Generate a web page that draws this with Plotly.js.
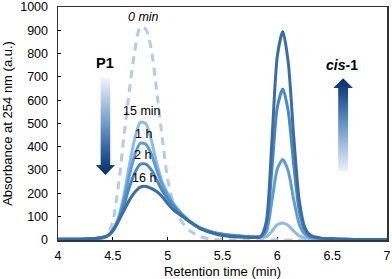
<!DOCTYPE html>
<html><head><meta charset="utf-8">
<script src="https://cdn.plot.ly/plotly-3.0.1.min.js"></script>
<style>html,body{margin:0;padding:0;background:#fff;}#chart{width:392px;height:279px;}</style>
</head><body><div id="chart"></div>
<script>
// Retention time grid (min)
const time = [4.0,4.1,4.2,4.3,4.4,4.45,4.5,4.55,4.6,4.65,4.7,4.75,4.8,4.85,4.9,4.95,5.0,5.05,5.1,5.15,5.2,5.3,5.4,5.5,5.6,5.7,5.8,5.85,5.9,5.95,6.0,6.05,6.1,6.15,6.2,6.25,6.3,6.4,6.5,6.6,6.8,7.0];
// Absorbance at 254 nm (a.u.) for each irradiation time
const abs0min  = [0,0,0,0,5,20,80,230,440,640,810,915,905,820,640,440,260,160,100,65,40,14,3,0,0,0,0,0,0,0,0,0,0,0,0,0,0,0,0,0,0,0];
const abs15min = [3,3,3,5,10,18,45,95,190,320,435,505,500,430,330,250,200,160,128,103,82,52,36,26,20,16,13,12,14,38,65,73,62,38,18,9,6,4,3,3,2,2];
const abs1h    = [3,3,3,5,10,17,42,88,170,275,365,415,412,370,300,238,192,155,125,101,81,51,35,25,19,15,13,13,35,165,305,345,295,172,68,25,12,6,4,3,2,2];
const abs2h    = [3,3,3,5,10,16,40,82,148,225,288,325,326,302,258,212,176,146,120,98,79,50,34,24,18,15,13,14,60,300,570,648,550,320,125,42,16,7,4,3,2,2];
const abs16h   = [3,3,3,5,11,18,38,80,125,170,205,227,230,222,208,186,156,130,112,96,78,48,31,19,14,12,11,16,80,420,790,895,760,440,170,55,20,8,5,3,2,2];

const seriesNames = ['0 min','15 min','1 h','2 h','16 h'];
const seriesData = [abs0min, abs15min, abs1h, abs2h, abs16h];
const colors = ['#b3cbe8','#8fbae3','#5d9cd6','#4a88c4','#3c6d9f'];

const traces = seriesData.map((y,i)=>({
  x: time, y: y, type:'scatter', mode:'lines', name: seriesNames[i],
  cliponaxis:false,
  line:{color:colors[i], width:3, shape:'spline', smoothing:0.7, dash: i===0 ? '8px,6px' : 'solid'},
  hoverinfo:'skip'
}));

function arrowSvg(dir){
  // dir 'down': light top -> dark bottom, head at bottom; 'up': head at top
  let svg;
  if(dir==='down'){
    svg = '<svg xmlns="http://www.w3.org/2000/svg" width="20" height="97" viewBox="0 0 20 97" preserveAspectRatio="none">'+
      '<defs><linearGradient id="g" x1="0" y1="0" x2="0" y2="1">'+
      '<stop offset="0" stop-color="#eef3fa"/><stop offset="0.5" stop-color="#6a95c8"/><stop offset="0.85" stop-color="#1c4a8a"/><stop offset="1" stop-color="#0c2c60"/></linearGradient></defs>'+
      '<path d="M5 0 H15 V87 H20 L10 97 L0 87 H5 Z" fill="url(#g)"/></svg>';
  } else {
    svg = '<svg xmlns="http://www.w3.org/2000/svg" width="20" height="97" viewBox="0 0 20 97" preserveAspectRatio="none">'+
      '<defs><linearGradient id="g" x1="0" y1="1" x2="0" y2="0">'+
      '<stop offset="0" stop-color="#eef3fa"/><stop offset="0.5" stop-color="#6a95c8"/><stop offset="0.85" stop-color="#1c4a8a"/><stop offset="1" stop-color="#0c2c60"/></linearGradient></defs>'+
      '<path d="M5 97 H15 V10 H20 L10 0 L0 10 H5 Z" fill="url(#g)"/></svg>';
  }
  return 'data:image/svg+xml;charset=utf-8,' + encodeURIComponent(svg);
}

const font = 'Liberation Sans, Arial, Helvetica, sans-serif';
const layout = {
  width:392, height:279,
  margin:{l:58, r:5, t:7, b:39},
  paper_bgcolor:'#fff', plot_bgcolor:'#fff',
  showlegend:false,
  font:{family:font, size:12.5, color:'#000'},
  xaxis:{range:[4,7], dtick:0.5, tick0:4, showgrid:false, zeroline:false,
    showline:true, linecolor:'#333', linewidth:1.5, mirror:true,
    ticks:'inside', ticklen:3, tickcolor:'#000', layer:'below traces', ticklabelstandoff:3,
    title:{text:'Retention time (min)', font:{size:13}, standoff:6}},
  yaxis:{range:[0,1000], dtick:100, tick0:0, showgrid:false, zeroline:false,
    showline:true, linecolor:'#333', linewidth:1.5, mirror:true,
    ticks:'inside', ticklen:3, tickcolor:'#000', layer:'below traces', ticklabelstandoff:6,
    title:{text:'Absorbance at 254 nm (a.u.)', font:{size:13}, standoff:4}},
  annotations:[
    {x:4.78, y:957, text:'<i>0 min</i>', showarrow:false, font:{size:12.5}},
    {x:4.77, y:555, text:'15 min', showarrow:false, font:{size:12.5}},
    {x:4.78, y:453, text:'1 h', showarrow:false, font:{size:12.5}},
    {x:4.77, y:365, text:'2 h', showarrow:false, font:{size:12.5}},
    {x:4.78, y:267, text:'16 h', showarrow:false, font:{size:12.5}},
    {x:4.43, y:760, text:'<b>P1</b>', showarrow:false, font:{size:14.5}},
    {x:6.59, y:751, text:'<b><i>cis</i>-1</b>', showarrow:false, font:{size:14}}
  ],
  images:[
    {source:arrowSvg('down'), xref:'x', yref:'y', x:4.345, y:695, sizex:0.175, sizey:416, sizing:'stretch', xanchor:'left', yanchor:'top', layer:'above'},
    {source:arrowSvg('up'), xref:'x', yref:'y', x:6.51, y:694, sizex:0.18, sizey:401, sizing:'stretch', xanchor:'left', yanchor:'top', layer:'above'}
  ]
};
Plotly.newPlot('chart', traces, layout, {displayModeBar:false, staticPlot:true});
</script></body></html>
